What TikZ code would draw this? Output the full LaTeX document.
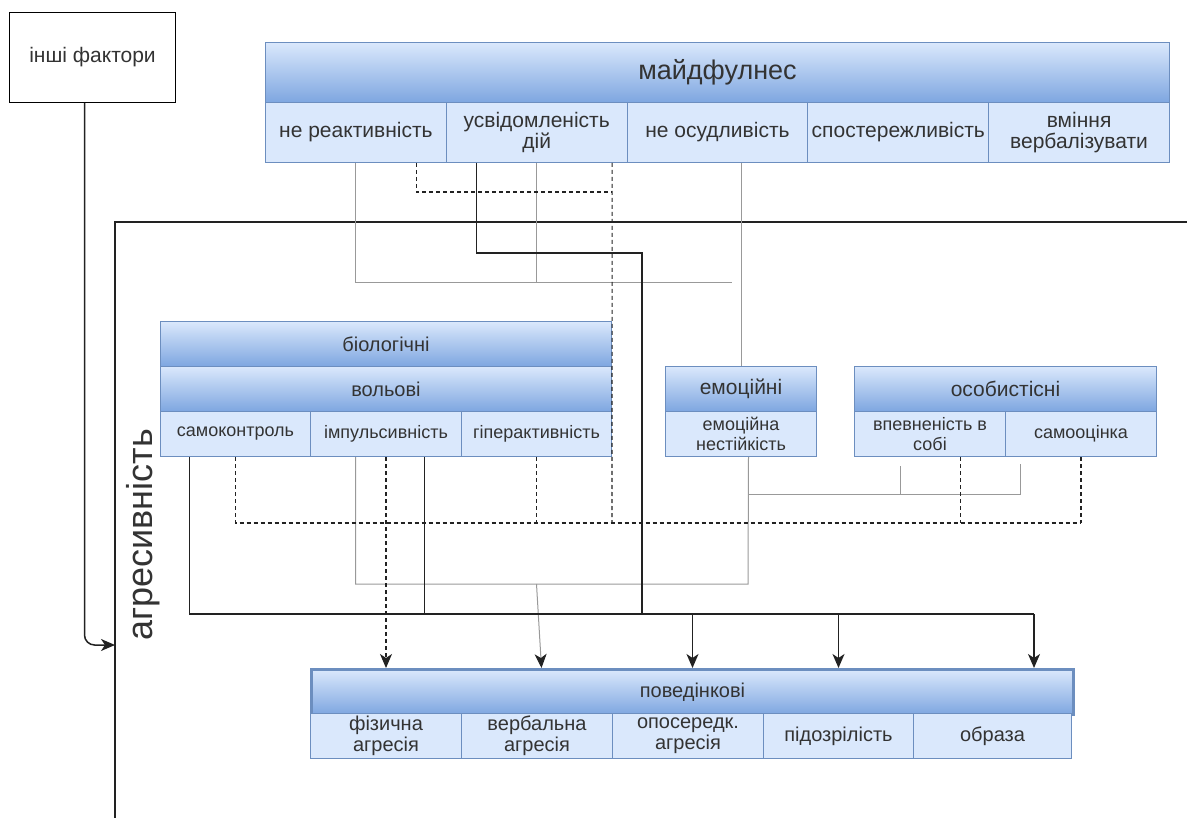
\documentclass[tikz,border=0pt]{standalone}
\usepackage{fontspec}
\setmainfont{Liberation Sans}
\usetikzlibrary{arrows.meta,calc}
\definecolor{bord}{HTML}{6C8EBF}
\definecolor{gtop}{HTML}{DAE8FC}
\definecolor{gbot}{HTML}{7EA6E0}
\definecolor{cellc}{HTML}{DAE8FC}
\definecolor{ink}{HTML}{333333}
\definecolor{lgray}{HTML}{999999}
\definecolor{dline}{HTML}{222222}
\newcommand\myfs[2]{\fontsize{#1}{#2}\selectfont}
\begin{document}
\begin{tikzpicture}[x=1pt,y=-1pt,
  sz/.style 2 args={minimum width=#1, minimum height=#2},
  hdr/.style={draw=bord, line width=1pt, top color=gtop, bottom color=gbot,
              inner sep=0pt, anchor=north west, align=center, text=ink},
  cel/.style={draw=bord, line width=1pt, fill=cellc,
              inner sep=0pt, anchor=north west, align=center, text=ink},
  arr/.style={-{Stealth[length=14pt,width=12pt,inset=4pt,color=dline]}},
  blk/.style={draw=dline, line width=1.5pt},
  gry/.style={draw=lgray, line width=1pt},
  dsh/.style={draw=dline, line width=1.1pt, dash pattern=on 4pt off 3pt},
]
\useasboundingbox (0,0) rectangle (1187,818);

% other factors
\node[draw=black, line width=1pt, fill=white, sz={166pt}{90pt}, anchor=north west,
      inner sep=0pt, font=\myfs{21}{23}, text=ink] (other) at (9,12) {інші фактори};

% mindfulness block
\node[hdr, sz={904pt}{60pt}, font=\myfs{27}{30}] (mind) at (265,42) {майдфулнес};
\begin{scope}[every node/.append style={cel, sz={180.8pt}{60pt}, font=\myfs{21}{21}}]
\node (m1) at (265,102) {не реактивність};
\node (m2) at (445.8,102) {усвідомленість\\дій};
\node (m3) at (626.6,102) {не осудливість};
\node (m4) at (807.4,102) {спостережливість};
\node (m5) at (988.2,102) {вміння\\вербалізувати};
\end{scope}

% biological / volitional block
\node[hdr, sz={451pt}{45pt}, font=\myfs{20}{22}] (bio) at (160,321) {біологічні};
\node[hdr, sz={451pt}{45pt}, font=\myfs{20}{22}] (vol) at (160,366) {вольові};
\begin{scope}[every node/.append style={cel, font=\myfs{18}{20}}]
\node[sz={150pt}{45pt}] (b1) at (160,411) {самоконтроль};
\node[sz={151pt}{45pt}] (b2) at (310,411) {імпульсивність};
\node[sz={150pt}{45pt}] (b3) at (461,411) {гіперактивність};
\end{scope}

% emotional block
\node[hdr, sz={151pt}{45pt}, font=\myfs{21}{22}] (emo) at (665,366) {емоційні};
\node[cel, sz={151pt}{45pt}, font=\myfs{18}{20}] (e1) at (665,411) {емоційна\\нестійкість};

% personal block
\node[hdr, sz={302pt}{45pt}, font=\myfs{21}{22}] (pers) at (854,366) {особистісні};
\node[cel, sz={151pt}{45pt}, font=\myfs{18}{20}] (p1) at (854,411) {впевненість в\\собі};
\node[cel, sz={151pt}{45pt}, font=\myfs{18}{20}] (p2) at (1005,411) {самооцінка};

% behavioural block
\node[hdr, line width=3pt, sz={762pt}{45pt}, font=\myfs{20}{22}] (beh) at (310,668) {поведінкові};
\begin{scope}[every node/.append style={cel, font=\myfs{20}{21}}]
\node[sz={151pt}{45pt}] (bh1) at (310,713) {фізична\\агресія};
\node[sz={151pt}{45pt}] (bh2) at (461,713) {вербальна\\агресія};
\node[sz={151pt}{45pt}] (bh3) at (612,713) {опосередк.\\агресія};
\node[sz={150pt}{45pt}] (bh4) at (763,713) {підозрілість};
\node[sz={158pt}{45pt}] (bh5) at (913,713) {образа};
\end{scope}

% aggressiveness frame and its label
\coordinate (fTop) at (115,222);
\coordinate (fBot) at (115,818);
\coordinate (fRight) at (1187,222);
\coordinate (aggIn) at (115,645);
\draw[blk, line cap=rect] (fBot) -- (fTop) -- (fRight);
\node[rotate=90, anchor=base, font=\myfs{36}{40}, text=ink] (agg) at (152,535) {агресивність};

% other factors enter the frame
\draw[blk, rounded corners=10pt, arr] ([xshift=-8pt]other.south) |- (aggIn);

% junction points
\coordinate (gT) at (732,283);
\coordinate (gB) at (748,584);
\coordinate (gE) at (748,494);
\coordinate (dA) at (612,192);
\coordinate (dB) at (612,523);
\coordinate (dR) at (1081,523);
\coordinate (kA) at (642,253);
\coordinate (kB) at (642,614);
\coordinate (kR) at (1034,614);

% grey links
\draw[gry] (m1.south) |- (gT);
\draw[gry] (m2.south) -- (m2.south |- gT);
\draw[gry] (emo.north |- m3.south) -- (emo.north);
\draw[gry] ([xshift=-30.5pt]b2.south) |- (gB) -- ([xshift=7.5pt]e1.south);
\draw[gry] ([xshift=-29.5pt,yshift=-9pt]p1.south) |- (gE);
\draw[gry] ([xshift=-60.5pt,yshift=-7pt]p2.south) |- (gE);
\draw[gry, arr] (b3.south |- gB) -- ([xshift=-151pt]beh.north);

% dashed links
\draw[dsh] ([xshift=60.5pt]m1.south) |- (dA);
\draw[dsh] ([xshift=75.4pt]m2.south) -- (dB);
\draw[dsh] (b1.south) |- (dR);
\draw[dsh] (b3.south) -- (b3.south |- dB);
\draw[dsh] ([xshift=30.5pt]p1.south) -- ([xshift=30.5pt]p1.south |- dB);
\draw[dsh] (p2.south) -- (p2.south |- dR);
\draw[dsh, arr] (b2.south) -- (b2.south |- beh.north);

% solid black links
\draw[blk] ([xshift=-60.4pt]m2.south) |- (kA) -- (kB);
\draw[blk] ([xshift=-46pt]b1.south) |- (kR);
\draw[blk] ([xshift=38.5pt]b2.south) -- ([xshift=38.5pt]b2.south |- kB);
\draw[blk, arr] (beh.north |- kB) -- (beh.north);
\draw[blk, arr] (bh4.north |- kB) -- (bh4.north |- beh.north);
\draw[blk, arr] (kR) -- (kR |- beh.north);
\end{tikzpicture}
\end{document}
